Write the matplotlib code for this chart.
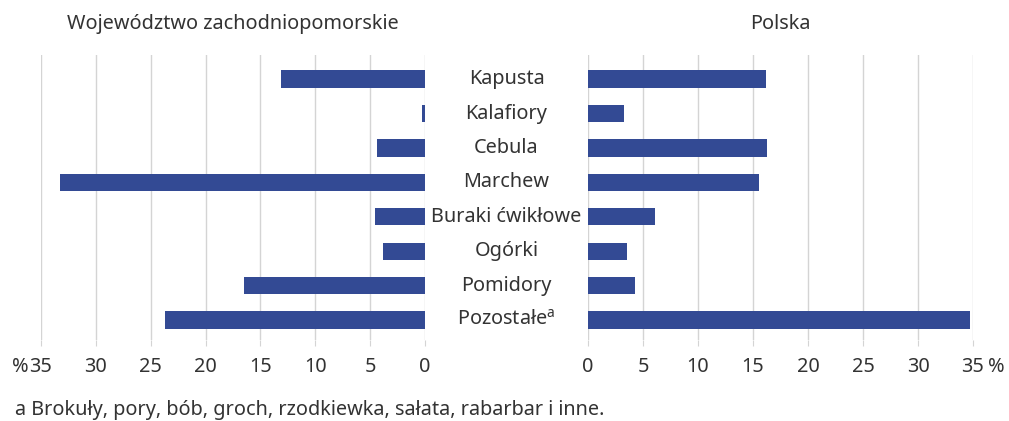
import matplotlib
matplotlib.use("Agg")
import matplotlib.pyplot as plt

categories = ["Kapusta", "Kalafiory", "Cebula", "Marchew", "Buraki ćwikłowe",
              "Ogórki", "Pomidory", "Pozostałe$^{\\mathregular{a}}$"]
region_values = [13.1, 0.3, 4.4, 33.3, 4.6, 3.8, 16.5, 23.7]
poland_values = [16.2, 3.3, 16.3, 15.5, 6.1, 3.5, 4.3, 34.7]
ticks = [0, 5, 10, 15, 20, 25, 30, 35]
tick_labels = ["0", "5", "10", "15", "20", "25", "30", "35"]
title_left = "Województwo zachodniopomorskie"
title_right = "Polska"
footnote = "a Brokuły, pory, bób, groch, rzodkiewka, sałata, rabarbar i inne."

plt.rcParams['font.family'] = ['Noto Sans', 'DejaVu Sans']
BAR = "#334a94"
TXT = "#333333"
GRID = "#d4d4d4"
FS = 14.3

W, H = 1009, 421
fig = plt.figure(figsize=(W / 100, H / 100), dpi=100)

bottom = 1 - 340 / H
height = (340 - 55) / H
axL = fig.add_axes([41 / W, bottom, (425 - 41) / W, height])
axR = fig.add_axes([588 / W, bottom, (973 - 588) / W, height])

ypos = list(range(len(categories)))
axL.barh(ypos, region_values, height=0.5, color=BAR)
axR.barh(ypos, poland_values, height=0.5, color=BAR)

for ax in (axL, axR):
    ax.set_xlim(0, 35)
    ax.set_ylim(7.58, -0.70)
    ax.set_xticks(ticks)
    ax.set_xticklabels(tick_labels)
    ax.set_yticks([])
    ax.grid(axis="x", color=GRID, linewidth=1)
    ax.set_axisbelow(True)
    for s in ax.spines.values():
        s.set_visible(False)
    ax.tick_params(axis="x", length=4, color=GRID, labelsize=FS,
                   labelcolor=TXT, pad=8)
axL.invert_xaxis()

axL.set_title(title_left, fontsize=FS, color=TXT, pad=19)
axR.set_title(title_right, fontsize=FS, color=TXT, pad=19)

# category labels between the panels
mid_x = (425 + 588) / 2 / W
for i, cat in enumerate(categories):
    disp = axL.transData.transform((0, i))
    fy = fig.transFigure.inverted().transform(disp)[1]
    fig.text(mid_x, fy, cat, ha="center", va="center", fontsize=FS, color=TXT)

# percent signs next to the outer tick labels
fig.canvas.draw()
lab = axL.get_xticklabels()[-1]
bb = lab.get_window_extent(fig.canvas.get_renderer())
ymid = (bb.y0 + bb.y1) / 2 / (H)
ybase = bb.y0 / H
fig.text((bb.x0 - 1) / W, ybase, "%", ha="right", va="bottom", fontsize=FS, color=TXT)
labR = axR.get_xticklabels()[-1]
bbR = labR.get_window_extent(fig.canvas.get_renderer())
fig.text((bbR.x1 + 4) / W, ybase, "%", ha="left", va="bottom", fontsize=FS, color=TXT)

fig.text(15 / W, 1 - 410 / H, footnote, ha="left", va="center", fontsize=FS, color=TXT)

fig.savefig("out.png", dpi=100)
